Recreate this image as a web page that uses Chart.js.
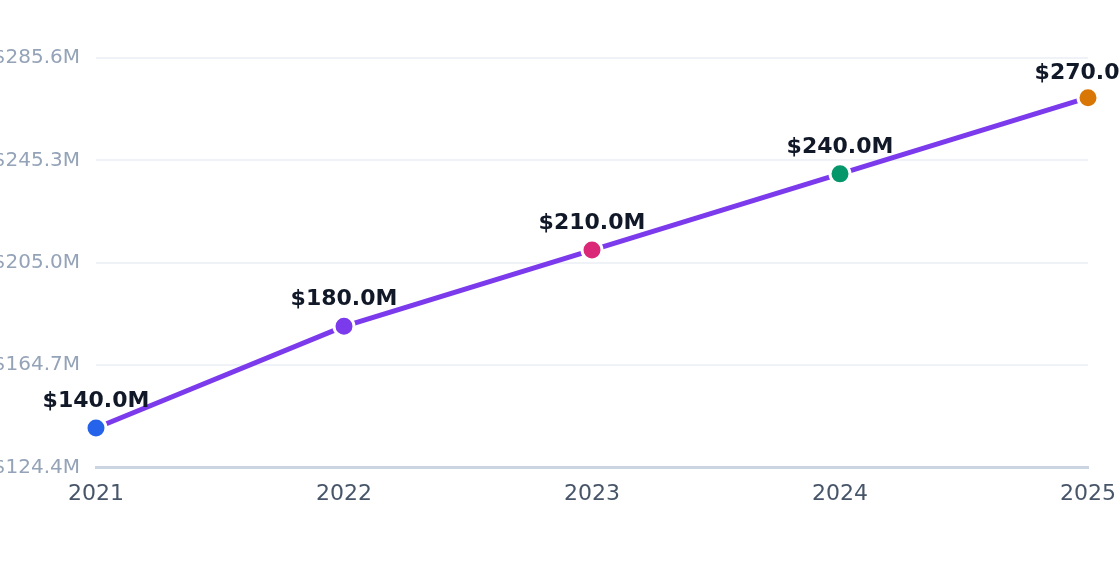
<!DOCTYPE html>
<html>
<head>
<meta charset="utf-8">
<script src="https://cdn.jsdelivr.net/npm/chart.js@4"></script>
<style>
html,body{margin:0;padding:0;background:#fff;}
#wrap{width:1120px;height:572px;position:relative;}
</style>
</head>
<body>
<div id="wrap"><canvas id="c" width="1120" height="572"></canvas></div>
<script>
const categories = ['2021', '2022', '2023', '2024', '2025'];
const revenue = [140, 180, 210, 240, 270];
const pointColors = ['#2563eb', '#7c3aed', '#db2777', '#059669', '#d97706'];
const yTicks = [124.4, 164.7, 205.0, 245.3, 285.6];

const fontFamily = "'DejaVu Sans', sans-serif";

const labelPlugin = {
  id: 'valueLabels',
  afterDatasetsDraw(chart) {
    const ctx = chart.ctx;
    const meta = chart.getDatasetMeta(0);
    const top = chart.chartArea.top;
    ctx.save();
    ctx.font = 'bold 22px ' + fontFamily;
    ctx.fillStyle = '#111827';
    ctx.textAlign = 'center';
    ctx.textBaseline = 'middle';
    meta.data.forEach((pt, i) => {
      const y = Math.max(pt.y - 27, top + 15);
      ctx.fillText('$' + revenue[i].toFixed(1) + 'M', pt.x, y);
    });
    ctx.restore();
  }
};

new Chart(document.getElementById('c'), {
  type: 'line',
  data: {
    labels: categories,
    datasets: [{
      data: revenue,
      borderColor: '#7c3aed',
      borderWidth: 5,
      tension: 0,
      fill: false,
      pointRadius: 10,
      pointHoverRadius: 10,
      pointBorderWidth: 3,
      pointBorderColor: '#ffffff',
      pointBackgroundColor: pointColors,
      clip: false
    }]
  },
  options: {
    responsive: false,
    animation: false,
    devicePixelRatio: 1,
    layout: { padding: { left: 0, right: 32, top: 58, bottom: 52 } },
    plugins: { legend: { display: false }, tooltip: { enabled: false } },
    scales: {
      x: {
        offset: false,
        afterFit(scale) { scale.paddingRight = 0; scale.paddingLeft = 0; },
        grid: { display: false, drawTicks: false },
        border: { display: true, color: '#cbd5e1', width: 3 },
        ticks: { color: '#475569', font: { family: fontFamily, size: 22 }, padding: 13, maxRotation: 0 }
      },
      y: {
        min: yTicks[0],
        max: yTicks[yTicks.length - 1],
        afterFit(scale) { scale.width = 96; },
        afterBuildTicks(scale) { scale.ticks = yTicks.map(v => ({ value: v })); },
        grid: { color: '#eff2f6', lineWidth: 2, drawTicks: false },
        border: { display: false },
        ticks: {
          color: '#94a3b8',
          font: { family: fontFamily, size: 20 },
          padding: 16,
          callback: (v) => '$' + Number(v).toFixed(1) + 'M'
        }
      }
    }
  },
  plugins: [labelPlugin]
});
</script>
</body>
</html>
